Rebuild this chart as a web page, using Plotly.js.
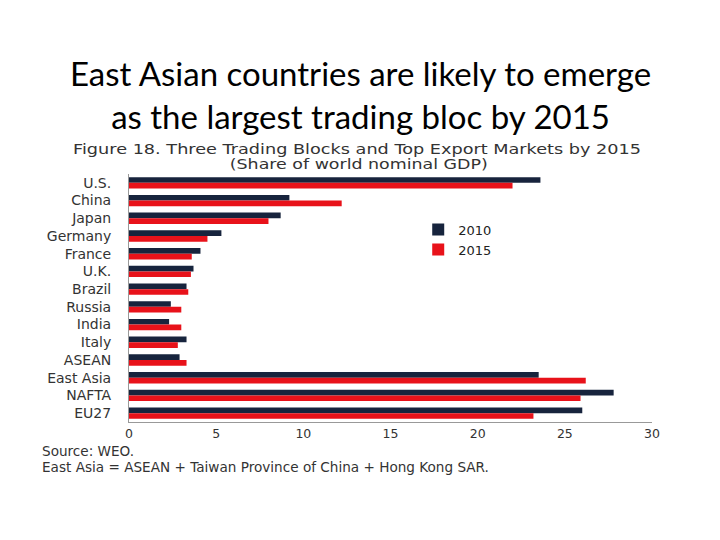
<!DOCTYPE html>
<html>
<head>
<meta charset="utf-8">
<script src="https://cdn.plot.ly/plotly-3.0.1.min.js"></script>
<style>html,body{margin:0;padding:0;background:#fff;}#chart{width:720px;height:540px;}</style>
</head>
<body>
<div id="chart"></div>
<script>
const categories = ["U.S.", "China", "Japan", "Germany", "France", "U.K.", "Brazil", "Russia", "India", "Italy", "ASEAN", "East Asia", "NAFTA", "EU27"];
const values2010 = [23.6, 9.2, 8.7, 5.3, 4.1, 3.7, 3.3, 2.4, 2.3, 3.3, 2.9, 23.5, 27.8, 26.0];
const values2015 = [22.0, 12.2, 8.0, 4.5, 3.6, 3.55, 3.4, 3.0, 3.0, 2.8, 3.3, 26.2, 25.9, 23.2];
const xTicks = [0, 5, 10, 15, 20, 25, 30];

const F = 'DejaVu Sans, Liberation Sans, Arial, sans-serif';
const PL = 129, PW = 523, PT = 174, PH = 248; // plot box in px, used to place notes
function px(x) { return (x - PL) / PW; }
function py(y) { return 1 + (PT - y) / PH; }

const traces = [
  {type: 'bar', orientation: 'h', name: '2010', y: categories, x: values2010,
   marker: {color: '#17243d'}},
  {type: 'bar', orientation: 'h', name: '2015', y: categories, x: values2015,
   marker: {color: '#e8121a'}}
];

const layout = {
  width: 720, height: 540,
  paper_bgcolor: '#fff', plot_bgcolor: '#fff',
  margin: {l: 129, r: 68, t: 174, b: 118},
  barmode: 'group', bargap: 0.36, bargroupgap: 0,
  showlegend: true,
  legend: {x: 0.553, y: 0.836, xanchor: 'left', yanchor: 'top',
    font: {family: F, size: 13, color: '#222'},
    bgcolor: 'rgba(0,0,0,0)', tracegroupgap: 4, itemwidth: 30},
  xaxis: {range: [0, 30], tickvals: xTicks, ticktext: xTicks.map(String),
    showgrid: false, zeroline: false, showline: true, linecolor: '#999', linewidth: 1,
    ticks: '', tickfont: {family: F, size: 12.5, color: '#333'}},
  yaxis: {autorange: 'reversed', showgrid: false, zeroline: false, showline: true,
    linecolor: '#999', linewidth: 1, ticks: '', ticklabelstandoff: 14,
    tickfont: {family: F, size: 14, color: '#333'}},
  annotations: [
    {text: 'East Asian countries are likely to emerge<br>as the largest trading bloc by 2015',
     xref: 'paper', yref: 'paper', x: px(360), y: py(94), xanchor: 'center', yanchor: 'middle',
     showarrow: false, align: 'center',
     font: {family: 'Lato, Carlito, Calibri, sans-serif', size: 33, color: '#000'}},
    {text: 'Figure 18. Three Trading Blocks and Top Export Markets by 2015',
     xref: 'paper', yref: 'paper', x: px(357), y: py(149), xanchor: 'center', yanchor: 'middle',
     showarrow: false, align: 'center',
     font: {family: F, size: 14, color: '#333'}},
    {text: '(Share of world nominal GDP)',
     xref: 'paper', yref: 'paper', x: px(359), y: py(164), xanchor: 'center', yanchor: 'middle',
     showarrow: false, align: 'center',
     font: {family: F, size: 14, color: '#333'}},
    {text: 'Source: WEO.',
     xref: 'paper', yref: 'paper', x: px(40), y: py(451), xanchor: 'left', yanchor: 'middle',
     showarrow: false, align: 'left',
     font: {family: F, size: 13.6, color: '#333'}},
    {text: 'East Asia = ASEAN + Taiwan Province of China + Hong Kong SAR.',
     xref: 'paper', yref: 'paper', x: px(40), y: py(467), xanchor: 'left', yanchor: 'middle',
     showarrow: false, align: 'left',
     font: {family: F, size: 13.6, color: '#333'}}
  ]
};

// horizontal stretch of the subtitle lines (the source figure's text is wide)
const stretchWidths = {1: 568, 2: 258};

Plotly.newPlot('chart', traces, layout, {displayModeBar: false, staticPlot: true}).then(function (gd) {
  Object.keys(stretchWidths).forEach(function (idx) {
    const t = gd.querySelector('.annotation[data-index="' + idx + '"] text.annotation-text');
    if (t) {
      t.setAttribute('textLength', stretchWidths[idx]);
      t.setAttribute('lengthAdjust', 'spacingAndGlyphs');
    }
  });
});
</script>
</body>
</html>
